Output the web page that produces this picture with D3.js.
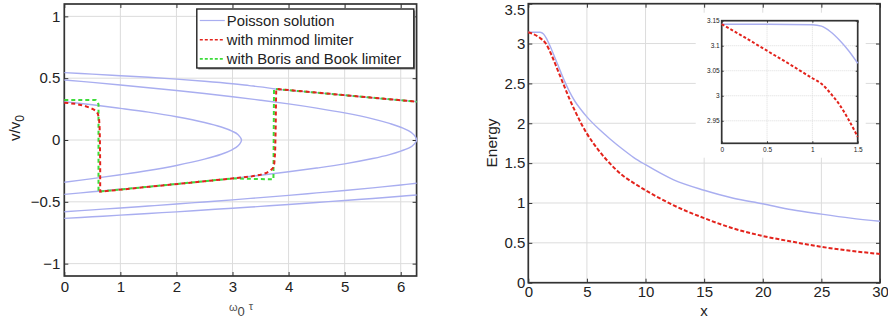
<!DOCTYPE html>
<html lang="en">
<head>
<meta charset="UTF-8">
<title>Phase space and energy</title>
<script src="https://d3js.org/d3.v7.min.js"></script>
<style>
    body { margin: 0; background: #fff; }
    text { font-family: "Liberation Sans", Arial, sans-serif; fill: #222; }
    .grid line { stroke: #dcdcdc; stroke-width: 1; }
    .frame { fill: none; stroke: #333; stroke-width: 1.7; }
    .tick line { stroke: #333; }
    .domain { display: none; }
</style>
</head>
<body>
<script>
    // ---- left panel: phase space curves (omega0 tau, v/v0) ----
    var leftXTicks = [0, 1, 2, 3, 4, 5, 6];
    var leftYTicks = [-1, -0.5, 0, 0.5, 1];

    var poissonA = [[0, 0.545], [0.5, 0.533], [1, 0.52], [1.5, 0.507], [2, 0.492], [2.5, 0.475], [3, 0.455],
        [3.3, 0.44], [3.5, 0.43], [3.76, 0.413], [4.5, 0.383], [5, 0.362], [5.5, 0.341], [6, 0.321], [6.283, 0.31]];
    var poissonB = [[0, 0.485], [0.5, 0.466], [1, 0.445], [1.5, 0.423], [2, 0.4], [2.5, 0.376], [3, 0.35],
        [3.5, 0.322], [4, 0.292], [4.5, 0.258], [5, 0.219], [5.5, 0.171], [5.8, 0.134], [6, 0.103], [6.2, 0.056],
        [6.283, 0], [6.2, -0.05], [6, -0.09], [5.8, -0.118], [5.5, -0.15], [5, -0.193], [4.5, -0.227],
        [4, -0.257], [3.5, -0.285], [3, -0.31], [2.5, -0.334], [2, -0.356], [1.5, -0.378], [1, -0.398],
        [0.5, -0.419], [0, -0.44]];
    var poissonC = [[0, 0.31], [0.5, 0.285], [1, 0.256], [1.5, 0.225], [2, 0.188], [2.5, 0.142], [2.8, 0.105],
        [3, 0.07], [3.1, 0.043], [3.16, 0], [3.1, -0.047], [3, -0.077], [2.8, -0.115], [2.5, -0.155],
        [2, -0.206], [1.5, -0.247], [1, -0.281], [0.5, -0.312], [0, -0.342]];
    var poissonD = [[0, -0.58], [0.5, -0.565], [1, -0.55], [1.5, -0.534], [2, -0.518], [2.5, -0.501], [3, -0.484],
        [3.5, -0.466], [4, -0.448], [4.5, -0.428], [5, -0.408], [5.5, -0.387], [6, -0.364], [6.283, -0.35]];
    var poissonE = [[0, -0.634], [0.5, -0.621], [1, -0.608], [1.5, -0.594], [2, -0.581], [2.5, -0.566], [3, -0.552],
        [3.5, -0.537], [4, -0.522], [4.5, -0.506], [5, -0.489], [5.5, -0.473], [6, -0.455], [6.283, -0.445]];

    var minmod = [[0, 0.302], [0.2, 0.292], [0.35, 0.278], [0.45, 0.262], [0.52, 0.248], [0.57, 0.232],
        [0.6, 0.21], [0.62, 0.17], [0.63, 0.1], [0.635, 0], [0.64, -0.2], [0.64, -0.418], [1.5, -0.379],
        [2.5, -0.334], [3.02, -0.31], [3.2, -0.302], [3.35, -0.293], [3.5, -0.281], [3.6, -0.267],
        [3.67, -0.25], [3.72, -0.228], [3.745, -0.19], [3.76, -0.1], [3.77, 0.1], [3.775, 0.3],
        [3.78, 0.413], [6.283, 0.31]];
    var borisBook = [[0, 0.324], [0.56, 0.324], [0.61, 0.29], [0.61, -0.418], [3.0, -0.311], [3.73, -0.318],
        [3.74, 0.413], [6.283, 0.31]];

    var legendLabels = ["Poisson solution", "with minmod limiter", "with Boris and Book limiter"];

    // ---- right panel: energy vs x ----
    var rightXTicks = [0, 5, 10, 15, 20, 25, 30];
    var rightYTicks = [0, 0.5, 1, 1.5, 2, 2.5, 3, 3.5];

    var energyPoisson = [[0, 3.142], [1, 3.142], [1.3, 3.12], [1.6, 3.05], [2, 2.92], [2.5, 2.74], [3, 2.56],
        [3.5, 2.4], [4, 2.27], [4.5, 2.17], [5, 2.08], [6, 1.93], [7, 1.8], [8, 1.68], [9, 1.57], [10, 1.48],
        [12.4, 1.29], [15, 1.16], [17.5, 1.06], [20, 0.99], [22.5, 0.915], [25, 0.86], [27.5, 0.81], [30, 0.77]];
    var energyMinmod = [[0, 3.142], [1, 3.07], [1.5, 3.0], [2, 2.85], [2.5, 2.67], [3, 2.49], [3.5, 2.31],
        [4, 2.15], [4.5, 2.0], [5, 1.87], [6, 1.66], [7, 1.49], [8, 1.35], [9, 1.25], [10, 1.16], [12.4, 0.97],
        [15, 0.81], [17.5, 0.68], [20, 0.586], [22.5, 0.515], [25, 0.45], [27.5, 0.4], [30, 0.36]];

    var insetXTicks = [0, 0.5, 1, 1.5];
    var insetYTicks = [2.95, 3, 3.05, 3.1, 3.15];
    var insetPoisson = [[0, 3.143], [0.5, 3.143], [1, 3.142], [1.1, 3.139], [1.2, 3.128], [1.3, 3.111],
        [1.4, 3.09], [1.5, 3.065]];
    var insetMinmod = [[0, 3.143], [0.25, 3.117], [0.5, 3.09], [0.75, 3.063], [1, 3.035], [1.1, 3.024],
        [1.2, 3.005], [1.3, 2.982], [1.4, 2.952], [1.5, 2.918]];

    var blue = "#a9aef0", red = "#e3231c", green = "#3ddc3a";

    var svg = d3.select("body").append("svg")
        .attr("width", 888)
        .attr("height", 323);

    function frame(g, x, y, xTicks, yTicks, fontSize, tickLen, padX, padY) {
        var w = x.range()[1], h = y.range()[0];
        var fmt = d3.format("~g");
        g.append("g").attr("class", "grid")
            .selectAll("line.v").data(xTicks).enter().append("line")
            .attr("x1", d => x(d)).attr("x2", d => x(d)).attr("y1", 0).attr("y2", h);
        g.append("g").attr("class", "grid")
            .selectAll("line.h").data(yTicks).enter().append("line")
            .attr("x1", 0).attr("x2", w).attr("y1", d => y(d)).attr("y2", d => y(d));

        g.append("g").attr("transform", "translate(0," + h + ")")
            .call(d3.axisBottom(x).tickValues(xTicks).tickSize(-tickLen).tickPadding(padX).tickFormat(fmt));
        g.append("g").attr("class", "yaxis")
            .call(d3.axisLeft(y).tickValues(yTicks).tickSize(-tickLen).tickPadding(padY).tickFormat(fmt));
        g.append("g")
            .call(d3.axisTop(x).tickValues(xTicks).tickSize(-tickLen).tickFormat(""));
        g.append("g").attr("transform", "translate(" + w + ",0)")
            .call(d3.axisRight(y).tickValues(yTicks).tickSize(-tickLen).tickFormat(""));
        g.selectAll(".tick text").style("font-size", fontSize + "px").attr("fill", "#222");
        g.append("rect").attr("class", "frame").attr("width", w).attr("height", h);
        return g;
    }

    // ---------- left panel ----------
    var lx = d3.scaleLinear().domain([0, 2 * Math.PI]).range([0, 352.3]);
    var ly = d3.scaleLinear().domain([-1.1, 1.1]).range([272, 0]);
    var left = svg.append("g").attr("transform", "translate(64.3,4)");
    frame(left, lx, ly, leftXTicks, leftYTicks, 15, 4, 5, 4);

    var lcurve = d3.line().x(d => lx(d[0])).y(d => ly(d[1])).curve(d3.curveCatmullRom);
    var lpoly = d3.line().x(d => lx(d[0])).y(d => ly(d[1]));

    var plotL = left.append("g");
    [poissonA, poissonB, poissonC, poissonD, poissonE].forEach(function (s) {
        plotL.append("path").datum(s).attr("d", lcurve)
            .attr("fill", "none").attr("stroke", blue).attr("stroke-width", 1.4);
    });
    plotL.append("path").datum(borisBook).attr("d", lpoly)
        .attr("fill", "none").attr("stroke", green).attr("stroke-width", 2).attr("stroke-dasharray", "4,3");
    plotL.append("path").datum(minmod).attr("d", lpoly)
        .attr("fill", "none").attr("stroke", red).attr("stroke-width", 2).attr("stroke-dasharray", "4,3");

    // legend
    var legend = left.append("g").attr("transform", "translate(132.5,5)");
    legend.append("rect").attr("x", 1.5).attr("y", 1.5).attr("width", 217).attr("height", 59)
        .attr("fill", "#888");
    legend.append("rect").attr("width", 217).attr("height", 59)
        .attr("fill", "#fff").attr("stroke", "#222").attr("stroke-width", 1.4);
    var legendColors = [blue, red, green];
    legendLabels.forEach(function (lab, i) {
        var yy = 11.5 + i * 19.2;
        legend.append("line").attr("x1", 3).attr("x2", 28).attr("y1", yy).attr("y2", yy)
            .attr("stroke", legendColors[i]).attr("stroke-width", i === 0 ? 1.2 : 1.6)
            .attr("stroke-dasharray", i === 0 ? null : "3,2");
        legend.append("text").attr("x", 30).attr("y", yy + 5.2)
            .style("font-size", "14.8px").text(lab);
    });

    // axis titles
    var ylab = svg.append("text").attr("transform", "translate(20,128) rotate(-90)")
        .attr("text-anchor", "middle").style("font-size", "15px");
    ylab.append("tspan").text("v/v");
    ylab.append("tspan").attr("dy", 4).style("font-size", "12px").text("0");

    var xlab = svg.append("text").attr("x", 241).attr("y", 311)
        .attr("text-anchor", "middle").style("font-size", "11px").attr("fill", "#555");
    xlab.append("tspan").attr("fill", "#555").text("ω");
    xlab.append("tspan").attr("dy", 5).attr("fill", "#444").style("font-size", "13px").text("0");
    xlab.append("tspan").attr("dy", -6).attr("dx", 4).attr("fill", "#555").text("τ");

    // ---------- right panel ----------
    var rx = d3.scaleLinear().domain([0, 30]).range([0, 351.7]);
    var ry = d3.scaleLinear().domain([0, 3.5]).range([279, 0]);
    var right = svg.append("g").attr("transform", "translate(528.3,3.7)");
    frame(right, rx, ry, rightXTicks, rightYTicks, 15, 4, 4, 3);
    // top label sits against the page edge; keep it just inside
    right.selectAll(".yaxis .tick text").filter(d => d === 3.5).attr("dy", "0.72em");

    var rline = d3.line().x(d => rx(d[0])).y(d => ry(d[1])).curve(d3.curveMonotoneX);
    right.append("path").datum(energyPoisson).attr("d", rline)
        .attr("fill", "none").attr("stroke", blue).attr("stroke-width", 1.4);
    right.append("path").datum(energyMinmod).attr("d", rline)
        .attr("fill", "none").attr("stroke", red).attr("stroke-width", 2).attr("stroke-dasharray", "4,2");

    svg.append("text").attr("transform", "translate(497,143) rotate(-90)")
        .attr("text-anchor", "middle").style("font-size", "15.5px").text("Energy");
    svg.append("text").attr("x", 704).attr("y", 316)
        .attr("text-anchor", "middle").style("font-size", "15px").text("x");

    // ---------- inset ----------
    var ix = d3.scaleLinear().domain([0, 1.5]).range([0, 136]);
    var iy = d3.scaleLinear().domain([2.905, 3.15]).range([122.6, 0]);
    var inset = svg.append("g").attr("transform", "translate(721.7,20.7)");
    inset.append("rect").attr("x", -26).attr("y", -8).attr("width", 170).attr("height", 145).attr("fill", "#fff");
    frame(inset, ix, iy, insetXTicks, insetYTicks, 6.5, 2, 4, 2);
    inset.selectAll(".grid line").attr("stroke", "#e6e6e6").attr("stroke-dasharray", "1,1");
    inset.select(".frame").attr("stroke", "#777").attr("stroke-width", 1.2);
    inset.selectAll(".tick line").attr("stroke", "#777");
    inset.selectAll(".tick text").attr("fill", "#666");
    var iline = d3.line().x(d => ix(d[0])).y(d => iy(d[1])).curve(d3.curveMonotoneX);
    inset.append("path").datum(insetPoisson).attr("d", iline)
        .attr("fill", "none").attr("stroke", blue).attr("stroke-width", 1.4);
    inset.append("path").datum(insetMinmod).attr("d", iline)
        .attr("fill", "none").attr("stroke", red).attr("stroke-width", 2).attr("stroke-dasharray", "3,2");
</script>
</body>
</html>
